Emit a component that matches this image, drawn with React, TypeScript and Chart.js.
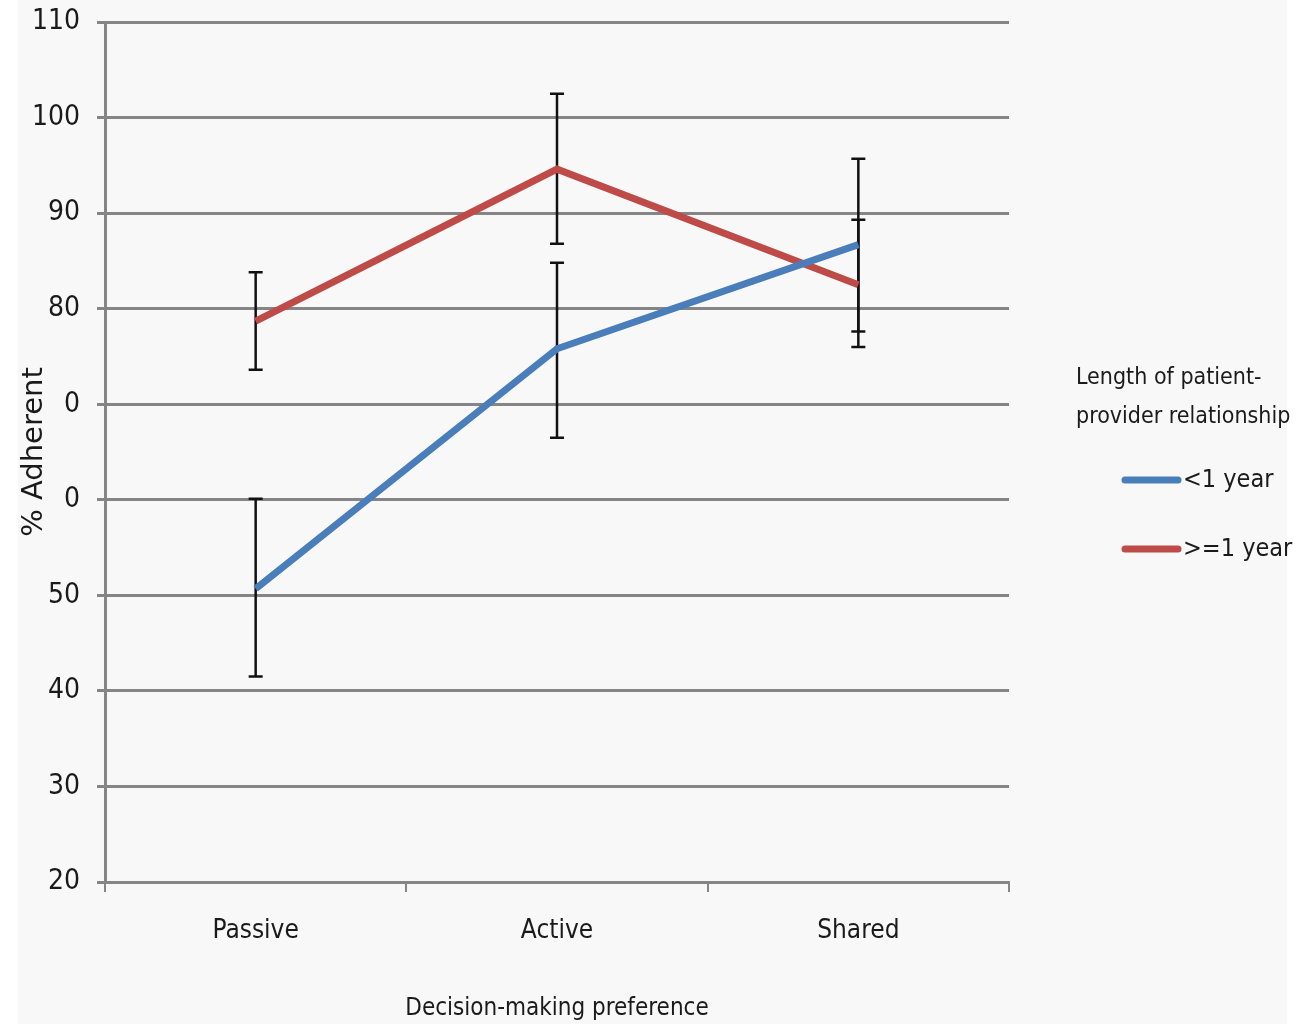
import React, { useEffect, useRef } from "react";
import { Chart, registerables } from "chart.js";

Chart.register(...registerables);

const categories = ["Passive", "Active", "Shared"];
const seriesNames = ["<1 year", ">=1 year"];
const lessThanOneYear = [50.7, 75.8, 86.7];
const lessThanOneYearLow = [41.5, 66.5, 77.6];
const lessThanOneYearHigh = [60.1, 84.8, 95.7];
const oneYearOrMore = [78.7, 94.6, 82.5];
const oneYearOrMoreLow = [73.6, 86.8, 76.0];
const oneYearOrMoreHigh = [83.8, 102.5, 89.3];
// tick labels as printed in the source figure (70 and 60 appear as "0")
const yTickLabels = ["20", "30", "40", "50", "0", "0", "80", "90", "100", "110"];
const legendTitle = ["Length of patient-", "provider relationship"];
const xTitle = "Decision-making preference";
const yTitle = "% Adherent";

const BLUE = "#4a7ebb";
const RED = "#be4b48";
const GRID = "#858585";
const TEXT = "#1a1a1a";
const NARROW = "'Liberation Sans Narrow', 'DejaVu Sans Condensed', sans-serif";

const errorBarPlugin = {
  id: "errorBars",
  beforeDatasetsDraw(chart: any) {
    const ctx = chart.ctx;
    const y = chart.scales.y;
    ctx.save();
    ctx.strokeStyle = "#111111";
    ctx.lineWidth = 2.5;
    chart.data.datasets.forEach((ds: any, di: number) => {
      const meta = chart.getDatasetMeta(di);
      meta.data.forEach((pt: any, i: number) => {
        const x = pt.x;
        const yl = y.getPixelForValue(ds.errLow[i]);
        const yh = y.getPixelForValue(ds.errHigh[i]);
        ctx.beginPath();
        ctx.moveTo(x, yl);
        ctx.lineTo(x, yh);
        ctx.moveTo(x - 7, yl);
        ctx.lineTo(x + 7, yl);
        ctx.moveTo(x - 7, yh);
        ctx.lineTo(x + 7, yh);
        ctx.stroke();
      });
    });
    ctx.restore();
  },
};

const legendPlugin = {
  id: "customLegend",
  afterDraw(chart: any) {
    const ctx = chart.ctx;
    ctx.save();
    ctx.fillStyle = TEXT;
    ctx.textAlign = "left";
    ctx.textBaseline = "middle";
    ctx.font = `23px ${NARROW}`;
    legendTitle.forEach((line, i) => {
      ctx.fillText(line, 1076, 378 + i * 39);
    });
    ctx.font = `25px ${NARROW}`;
    chart.data.datasets.forEach((ds: any, i: number) => {
      const yy = 480 + i * 69;
      ctx.strokeStyle = ds.borderColor;
      ctx.lineWidth = 7;
      ctx.lineCap = "round";
      ctx.beginPath();
      ctx.moveTo(1125, yy);
      ctx.lineTo(1178, yy);
      ctx.stroke();
      ctx.fillStyle = TEXT;
      ctx.fillText(ds.label, 1183, yy);
    });
    ctx.restore();
  },
};

export default function App() {
  const ref = useRef<HTMLCanvasElement>(null);
  useEffect(() => {
    document.body.style.margin = "0";
    const chart = new Chart(ref.current as HTMLCanvasElement, {
      type: "line",
      data: {
        labels: categories,
        datasets: [
          {
            label: seriesNames[0],
            data: lessThanOneYear,
            borderColor: BLUE,
            backgroundColor: BLUE,
            borderWidth: 7,
            pointRadius: 0,
            tension: 0,
            errLow: lessThanOneYearLow,
            errHigh: lessThanOneYearHigh,
          } as any,
          {
            label: seriesNames[1],
            data: oneYearOrMore,
            borderColor: RED,
            backgroundColor: RED,
            borderWidth: 7,
            pointRadius: 0,
            tension: 0,
            errLow: oneYearOrMoreLow,
            errHigh: oneYearOrMoreHigh,
          } as any,
        ],
      },
      options: {
        animation: false,
        responsive: false,
        layout: { padding: { top: 22, right: 290, bottom: 0, left: 0 } },
        plugins: {
          legend: { display: false },
          tooltip: { enabled: false },
        },
        scales: {
          x: {
            offset: true,
            grid: {
              offset: true,
              drawOnChartArea: false,
              drawTicks: true,
              tickLength: 10,
              color: GRID,
              lineWidth: 2,
            },
            border: { display: true, color: GRID, width: 3 },
            ticks: {
              color: TEXT,
              font: { family: NARROW, size: 26 },
              padding: 24,
            },
            title: {
              display: true,
              text: xTitle,
              color: TEXT,
              font: { family: NARROW, size: 24 },
              padding: { top: 0, bottom: 1 },
            },
            afterFit(scale: any) {
              scale.height = 142;
              scale.paddingLeft = 0;
              scale.paddingRight = 0;
            },
          },
          y: {
            min: 20,
            max: 110,
            grid: {
              color: GRID,
              lineWidth: 3,
              drawTicks: true,
              tickLength: 8,
            },
            border: { display: true, color: GRID, width: 3 },
            ticks: {
              stepSize: 10,
              color: TEXT,
              font: { family: NARROW, size: 28 },
              padding: 17,
              callback: (_v: any, i: number) => yTickLabels[i],
            },
            title: {
              display: true,
              text: yTitle,
              color: TEXT,
              font: { family: "'DejaVu Sans', sans-serif", size: 29 },
              padding: { top: 17, bottom: 0 },
            },
            afterFit(scale: any) {
              scale.width = 105;
              scale.paddingTop = 0;
              scale.paddingBottom = 0;
            },
          },
        },
      },
      plugins: [errorBarPlugin, legendPlugin],
    });
    return () => chart.destroy();
  }, []);

  return (
    <div
      style={{
        position: "absolute",
        left: 0,
        top: 0,
        width: 1299,
        height: 1024,
        background: "#ffffff",
        overflow: "hidden",
      }}
    >
      <div
        style={{
          position: "absolute",
          left: 18,
          top: 0,
          width: 1269,
          height: 1024,
          background: "#f8f8f8",
        }}
      />
      <canvas
        ref={ref}
        width={1299}
        height={1024}
        style={{ position: "absolute", left: 0, top: 0 }}
      />
    </div>
  );
}
